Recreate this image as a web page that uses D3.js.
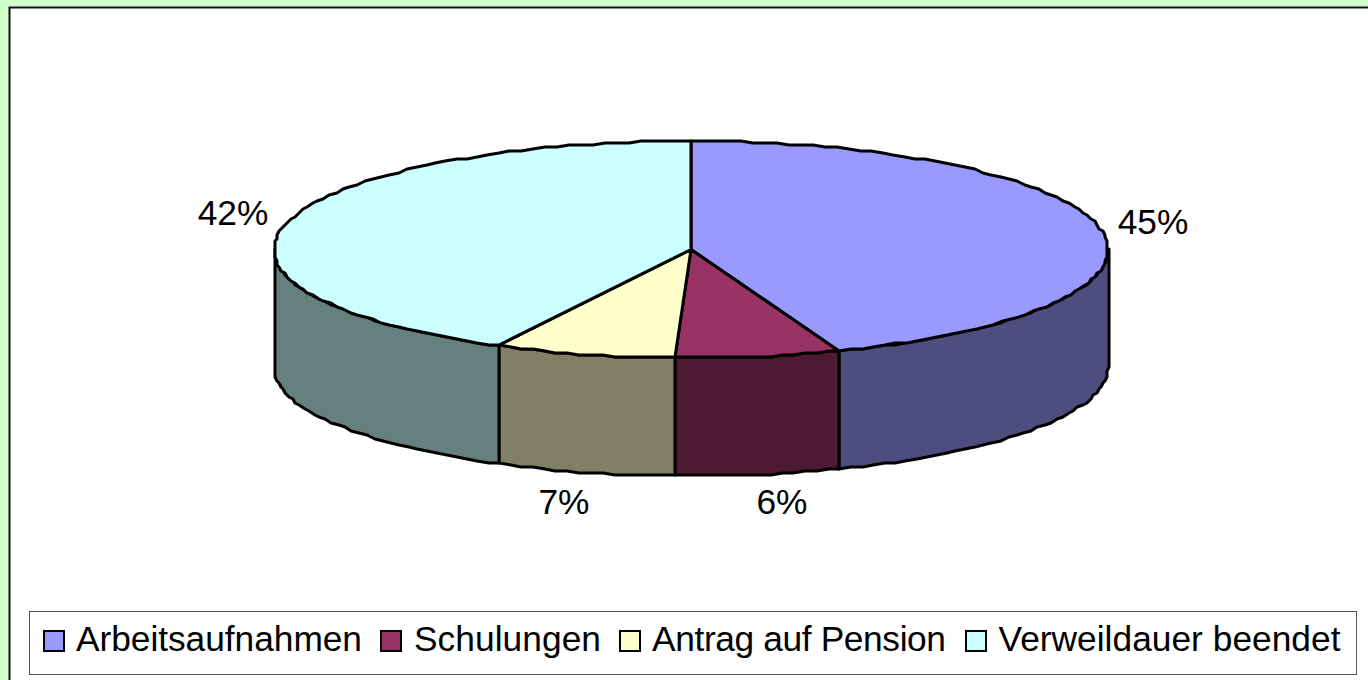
<!DOCTYPE html>
<html>
<head>
<meta charset="utf-8">
<script src="https://cdn.jsdelivr.net/npm/d3@7"></script>
<style>
  html, body { margin: 0; padding: 0; background: #ccffcc; overflow: hidden; }
  text { font-family: "Liberation Sans", Arial, sans-serif; fill: #000; }
</style>
</head>
<body>
<svg id="chart"></svg>
<script>
const categories = ['Arbeitsaufnahmen', 'Schulungen', 'Antrag auf Pension', 'Verweildauer beendet'];
const sliceValues = [44.2, 6.4, 7.0, 42.4];
const percentLabels = ['45%', '6%', '7%', '42%'];
const topColors = ['#9999ff', '#993366', '#ffffcc', '#ccffff'];
const sideColors = ['#4d4d80', '#4d1a33', '#808066', '#668080'];

const labelPositions = [[1153, 234], [782, 514], [564, 514], [233, 225]];
const legendTextX = [76, 414, 652, 998.5];
const legendTextWidth = [286, 187, 294, 342];
const legendSwatchX = [44, 381, 620, 966];

const width = 1368, height = 680;
const pieCfg = { cx: 691, cy: 249.5, rx: 417, ry: 108.5, depth: 118, snap: 2 };

const svg = d3.select('#chart').attr('width', width).attr('height', height);

// chart area
svg.append('rect')
    .attr('x', 9.5).attr('y', 7.5)
    .attr('width', width).attr('height', height)
    .attr('fill', '#fff')
    .attr('stroke', '#111')
    .attr('stroke-width', 2);

const arcs = d3.pie().sort(null).value(d => d)(sliceValues);
const line = d3.line();

// the outline in the original is visibly stepped, so snap it to a coarse grid (odd pixels,
// that keeps the top seam on x = 691)
const snap = v => Math.round((v - 1) / pieCfg.snap) * pieCfg.snap + 1;

// angle is clockwise from the top of the ellipse
const project = (a, z = 0) => [
    snap(pieCfg.cx + pieCfg.rx * Math.sin(a)),
    snap(pieCfg.cy - pieCfg.ry * Math.cos(a)) + z
];
const sampleArc = (a0, a1, z = 0) => {
    const n = Math.max(2, Math.ceil((a1 - a0) / 0.03));
    return d3.range(n + 1).map(i => project(a0 + (a1 - a0) * i / n, z));
};

// side walls, only the front half of the ellipse is visible
const wallStart = Math.PI / 2, wallEnd = Math.PI * 1.5;
const walls = svg.append('g');
arcs.forEach((d, i) => {
    const a0 = Math.max(d.startAngle, wallStart);
    const a1 = Math.min(d.endAngle, wallEnd);
    if (a1 <= a0) return;
    const pts = sampleArc(a0, a1).concat(sampleArc(a0, a1, pieCfg.depth).reverse());
    walls.append('path')
        .attr('d', line(pts) + 'Z')
        .attr('fill', sideColors[i])
        .attr('stroke', '#000')
        .attr('stroke-width', 3)
        .attr('stroke-linejoin', 'round');
});

// top faces
const tops = svg.append('g');
arcs.forEach((d, i) => {
    const pts = [[pieCfg.cx, pieCfg.cy]].concat(sampleArc(d.startAngle, d.endAngle));
    tops.append('path')
        .attr('d', line(pts) + 'Z')
        .attr('fill', topColors[i])
        .attr('stroke', '#000')
        .attr('stroke-width', 3)
        .attr('stroke-linejoin', 'round');
});

// data labels
svg.append('g').selectAll('text')
    .data(percentLabels)
    .join('text')
    .attr('x', (d, i) => labelPositions[i][0])
    .attr('y', (d, i) => labelPositions[i][1])
    .attr('text-anchor', 'middle')
    .attr('font-size', 35.3)
    .text(d => d);

// legend
const legend = svg.append('g');
legend.append('rect')
    .attr('x', 29.5).attr('y', 611.5)
    .attr('width', 1327).attr('height', 63)
    .attr('fill', '#fff')
    .attr('stroke', '#555')
    .attr('stroke-width', 1);

categories.forEach((c, i) => {
    legend.append('rect')
        .attr('x', legendSwatchX[i]).attr('y', 631)
        .attr('width', 20).attr('height', 20)
        .attr('fill', topColors[i])
        .attr('stroke', '#000')
        .attr('stroke-width', 2);
    legend.append('text')
        .attr('x', legendTextX[i]).attr('y', 651)
        .attr('font-size', 35.3)
        .attr('textLength', legendTextWidth[i])
        .attr('lengthAdjust', 'spacing')
        .text(c);
});
</script>
</body>
</html>
